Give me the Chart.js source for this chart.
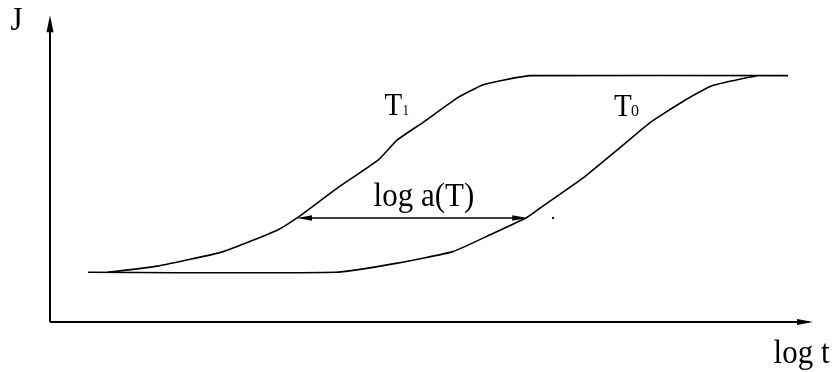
<!DOCTYPE html>
<html>
<head>
<meta charset="UTF-8" />
<title>J vs log t</title>
<script src="https://cdn.jsdelivr.net/npm/chart.js"></script>
<style>
  html, body { margin: 0; padding: 0; background: #fff; }
  #wrap { width: 835px; height: 372px; }
</style>
</head>
<body>
<div id="wrap"><canvas id="curves" width="835" height="372"></canvas></div>
<script>
// creep curves at two temperatures (x = log t, y = J)
const t1X = [0.76, 1.41, 2.28, 2.99, 3.25, 3.78, 4.32, 4.57, 4.91, 5.36, 5.70, 5.96, 6.32, 9.71];
const t1Y = [0.65, 0.73, 0.92, 1.20, 1.36, 1.75, 2.12, 2.38, 2.61, 2.93, 3.10, 3.16, 3.22, 3.22];
const t0X = [0.50, 3.75, 4.57, 5.30, 5.79, 6.28, 6.45, 7.01, 7.50, 7.90, 8.29, 8.72, 9.30];
const t0Y = [0.65, 0.65, 0.77, 0.92, 1.14, 1.37, 1.49, 1.88, 2.28, 2.61, 2.86, 3.09, 3.22];

// horizontal shift between the curves
const shiftY = 1.36;
const shiftFrom = 3.25;
const shiftTo = 6.28;

const toPts = (xs, ys) => xs.map((x, i) => ({ x: x, y: ys[i] }));

function arrowHead(ctx, x, y, dx, dy, len, half) {
  const n = Math.hypot(dx, dy);
  const ux = dx / n, uy = dy / n;
  ctx.beginPath();
  ctx.moveTo(x, y);
  ctx.lineTo(x - ux * len - uy * half, y - uy * len + ux * half);
  ctx.lineTo(x - ux * len + uy * half, y - uy * len - ux * half);
  ctx.closePath();
  ctx.fill();
}

// text slightly stretched vertically, like the original drawing
function label(ctx, txt, x, y, size) {
  ctx.save();
  ctx.translate(x, y);
  ctx.scale(1, 1.08);
  ctx.font = size + 'px "Liberation Serif", serif';
  ctx.fillText(txt, 0, 0);
  ctx.restore();
}

const sketch = {
  id: 'sketch',
  afterDraw(chart) {
    const ctx = chart.ctx;
    const sx = chart.scales.x, sy = chart.scales.y;
    const px = v => sx.getPixelForValue(v);
    const py = v => sy.getPixelForValue(v);
    ctx.save();
    ctx.strokeStyle = '#000';
    ctx.fillStyle = '#000';

    // axes with arrows
    ctx.lineWidth = 2;
    ctx.beginPath();
    ctx.moveTo(px(0), py(0));
    ctx.lineTo(px(0), py(4.0) + 4);
    ctx.moveTo(px(0), py(0));
    ctx.lineTo(px(10.04) - 4, py(0));
    ctx.stroke();
    arrowHead(ctx, px(0), py(4.01), 0, -1, 17, 3.5);
    arrowHead(ctx, px(10.04), py(0), 1, 0, 16, 3);

    // shift arrow
    ctx.lineWidth = 1.5;
    ctx.beginPath();
    ctx.moveTo(px(shiftFrom) + 4, py(shiftY));
    ctx.lineTo(px(shiftTo) - 4, py(shiftY));
    ctx.stroke();
    arrowHead(ctx, px(shiftFrom), py(shiftY), -1, 0, 15, 2.8);
    arrowHead(ctx, px(shiftTo), py(shiftY), 1, 0, 15, 2.8);
    ctx.fillRect(px(6.62) - 1, py(shiftY) - 1, 2, 2);

    // labels
    ctx.textBaseline = 'alphabetic';
    ctx.textAlign = 'center';
    label(ctx, 'log a(T)', px(4.92), py(1.52), 31);
    ctx.textAlign = 'left';
    label(ctx, 'log t', px(9.52), py(-0.54), 31);
    label(ctx, 'T', px(4.40), py(2.71), 29);
    label(ctx, 'T', px(7.42), py(2.69), 29);
    label(ctx, '1', px(4.40) + 18, py(2.71), 13);
    label(ctx, '0', px(7.42) + 17, py(2.69), 16);
    label(ctx, 'J', px(-0.52), py(3.82), 31);
    ctx.restore();
  }
};

new Chart(document.getElementById('curves'), {
  type: 'line',
  data: {
    datasets: [
      { label: 'T1', data: toPts(t1X, t1Y) },
      { label: 'T0', data: toPts(t0X, t0Y) }
    ]
  },
  options: {
    responsive: false,
    animation: false,
    events: [],
    layout: { padding: { left: 50, right: 25, top: 16, bottom: 50 } },
    elements: {
      line: { borderColor: '#000', borderWidth: 1.6, tension: 0.15, fill: false },
      point: { radius: 0 }
    },
    scales: {
      x: { type: 'linear', min: 0, max: 10, display: false },
      y: { type: 'linear', min: 0, max: 4, display: false }
    },
    plugins: { legend: { display: false }, tooltip: { enabled: false } }
  },
  plugins: [sketch]
});
</script>
</body>
</html>
